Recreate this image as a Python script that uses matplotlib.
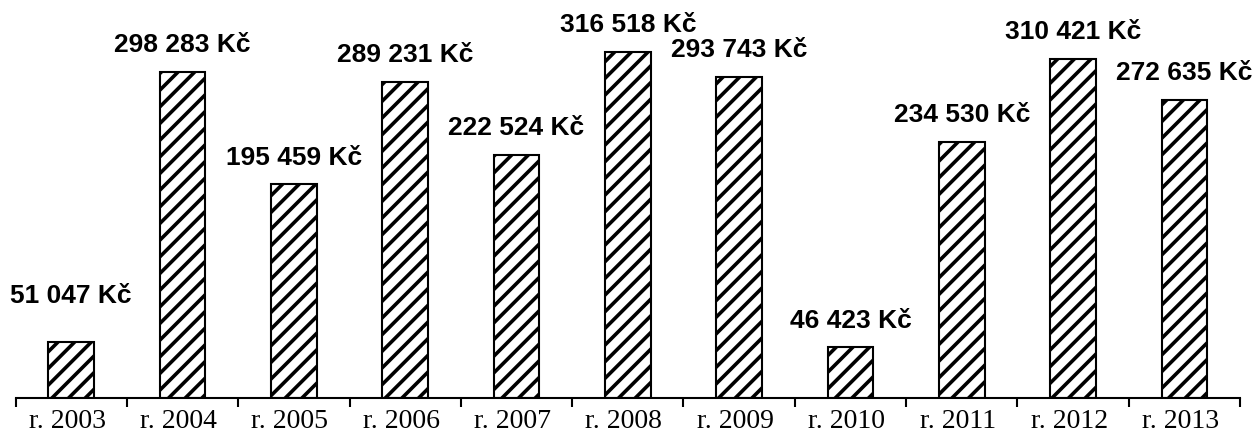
import numpy as np
import matplotlib.pyplot as plt
from matplotlib.transforms import ScaledTranslation

# Values (Kč per year)
years = ['r. 2003', 'r. 2004', 'r. 2005', 'r. 2006', 'r. 2007', 'r. 2008',
         'r. 2009', 'r. 2010', 'r. 2011', 'r. 2012', 'r. 2013']
amounts = [51047, 298283, 195459, 289231, 222524, 316518,
           293743, 46423, 234530, 310421, 272635]

plt.rcParams['hatch.linewidth'] = 2.6
plt.rcParams['hatch.color'] = '#303030'

fig = plt.figure(figsize=(12.54, 4.32), dpi=100)
ax = fig.add_axes([0.0124, 0.0787, 0.9765, 0.9213])

x = np.arange(len(years))
bars = ax.bar(x, amounts, width=0.41, color='white', edgecolor='black',
              linewidth=1.5, hatch='//')

# labels above bars, first one sits a bit higher in the original
for i, (b, v) in enumerate(zip(bars, amounts)):
    txt = f'{v:,} Kč'.replace(',', ' ')
    gap = 28 if i == 0 else 14
    ax.annotate(txt, (b.get_x() + b.get_width() / 2, v),
                xytext=(0, gap), textcoords='offset points',
                ha='center', va='baseline', fontsize=19, fontweight='bold',
                family='Liberation Sans')

ax.set_xlim(-0.5, len(years) - 0.5)
ax.set_ylim(0, 364000)

for s in ['top', 'right', 'left']:
    ax.spines[s].set_visible(False)
ax.spines['bottom'].set_linewidth(1.5)
ax.set_yticks([])

ax.set_xticks(x)
ax.set_xticklabels(years, family='Liberation Serif', fontsize=20)
ax.tick_params(axis='x', which='major', length=0, pad=8)
ax.set_xticks(np.arange(len(years) + 1) - 0.5, minor=True)
ax.tick_params(axis='x', which='minor', length=6.5, width=1.5, direction='out')

# year labels sit slightly left of the bar centres
shift = ScaledTranslation(-4 / 100, 0, fig.dpi_scale_trans)
for lbl in ax.get_xticklabels():
    lbl.set_transform(lbl.get_transform() + shift)

plt.savefig('out.png', dpi=100)
